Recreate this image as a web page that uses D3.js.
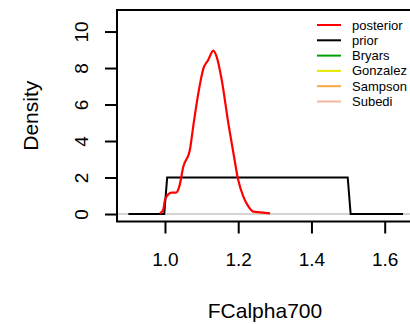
<!DOCTYPE html>
<html>
<head>
  <meta content="text/html;charset=utf-8" http-equiv="Content-Type">
  <title>FCalpha700 density</title>
<script src="https://cdnjs.cloudflare.com/ajax/libs/d3/7.6.1/d3.min.js"></script>
<style>
  body { margin: 0; background: #fff; }
  text { font-family: 'Liberation Sans', Arial, sans-serif; }
</style>
</head>
<body>
<svg width="410" height="324"></svg>
<script>

// posterior density
let postX = [0.986, 0.995, 1.000, 1.009, 1.018, 1.030, 1.039, 1.050, 1.068, 1.077, 1.091, 1.105,
             1.118, 1.132, 1.141, 1.155, 1.173, 1.187, 1.200, 1.214, 1.228, 1.241, 1.260, 1.287];
let postY = [0.04, 0.22, 0.77, 1.08, 1.17, 1.17, 1.50, 2.59, 3.51, 4.78, 6.61, 7.98,
             8.44, 8.95, 8.62, 7.34, 4.97, 3.33, 1.86, 0.95, 0.40, 0.13, 0.09, 0.04];

// prior: uniform on [1, 1.5]
let priorX = [0.9, 0.998, 1.006, 1.499, 1.507, 1.65];
let priorY = [0,   0,     2,     2,     0,     0   ];

let xTicks = [1.0, 1.2, 1.4, 1.6];
let yTicks = [0, 2, 4, 6, 8, 10];

let legendNames  = ['posterior', 'prior', 'Bryars', 'Gonzalez', 'Sampson', 'Subedi'];
let legendColors = ['#ff0000', '#000000', '#00a000', '#e6e600', '#f5a742', '#f2b8a0'];

let svg = d3.select('svg');

let plotL = 117, plotR = 414, plotT = 10, plotB = 221.5;

let x = d3.scaleLinear().domain([0.869, 1.680]).range([plotL, plotR]);
let y = d3.scaleLinear().domain([-0.41, 11.18]).range([plotB, plotT]);

let line = d3.line().x(d => x(d[0])).y(d => y(d[1]));

// light grey zero line
svg.append('line')
   .attr('x1', plotL).attr('x2', 410)
   .attr('y1', y(0)).attr('y2', y(0))
   .attr('stroke', '#d3d3d3').attr('stroke-width', 2);

// prior
svg.append('path')
   .datum(d3.zip(priorX, priorY))
   .attr('d', line)
   .attr('fill', 'none')
   .attr('stroke', '#000')
   .attr('stroke-width', 2);

// posterior
svg.append('path')
   .datum(d3.zip(postX, postY))
   .attr('d', d3.line().curve(d3.curveMonotoneX).x(d => x(d[0])).y(d => y(d[1])))
   .attr('fill', 'none')
   .attr('stroke', '#ff0000')
   .attr('stroke-width', 2.2);

// box (right side runs off the canvas)
svg.append('rect')
   .attr('x', plotL).attr('y', plotT)
   .attr('width', plotR - plotL).attr('height', plotB - plotT)
   .attr('fill', 'none')
   .attr('stroke', '#000')
   .attr('stroke-width', 2);

// x axis
let xAxis = svg.append('g')
   .attr('transform', `translate(0,${plotB})`)
   .call(d3.axisBottom(x).tickValues(xTicks).tickFormat(d3.format('.1f')).tickSize(12).tickPadding(19));
xAxis.select('.domain').remove();
xAxis.selectAll('line').attr('stroke', '#000').attr('stroke-width', 2);
xAxis.selectAll('text').attr('font-size', 19).attr('fill', '#000');

// y axis, labels turned like R
let yAxis = svg.append('g')
   .attr('transform', `translate(${plotL},0)`)
   .call(d3.axisLeft(y).tickValues(yTicks).tickSize(12));
yAxis.select('.domain').remove();
yAxis.selectAll('line').attr('stroke', '#000').attr('stroke-width', 2);
yAxis.selectAll('text')
   .attr('x', null).attr('dy', null)
   .attr('font-size', 19).attr('fill', '#000')
   .attr('text-anchor', 'middle')
   .attr('transform', 'translate(-36,0) rotate(-90)')
   .attr('dominant-baseline', 'central')
   .attr('y', 0);

// axis titles
svg.append('text')
   .attr('x', 265).attr('y', 318)
   .attr('text-anchor', 'middle')
   .attr('font-size', 21)
   .text('FCalpha700');

svg.append('text')
   .attr('transform', `translate(38,${(plotT + plotB) / 2}) rotate(-90)`)
   .attr('text-anchor', 'middle')
   .attr('font-size', 21)
   .text('Density');

// legend
let leg = svg.append('g').attr('class', 'legend');
let rows = leg.selectAll('g')
   .data(legendNames)
   .enter()
   .append('g')
   .attr('transform', (d, i) => `translate(0,${25 + i * 15.3})`);

rows.append('line')
   .attr('x1', 317).attr('x2', 341)
   .attr('stroke', (d, i) => legendColors[i])
   .attr('stroke-width', 2);

rows.append('text')
   .attr('x', 352).attr('y', 0)
   .attr('dominant-baseline', 'central')
   .attr('font-size', 13)
   .text(d => d);

</script>
</body>
</html>
